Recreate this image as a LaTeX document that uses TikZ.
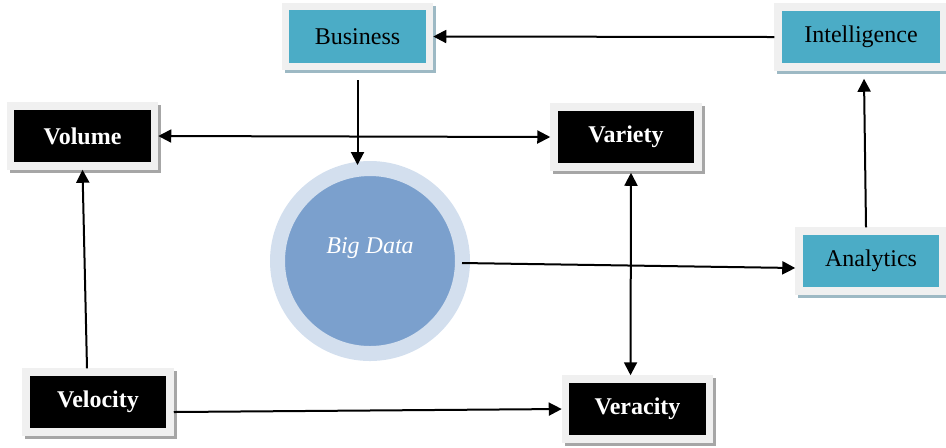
\documentclass[tikz,border=0pt]{standalone}
\usepackage{fontspec}
\setmainfont{Liberation Serif}
\usetikzlibrary{arrows.meta,shadows}

\definecolor{bdteal}{HTML}{4BACC6}
\definecolor{bdframe}{HTML}{F0F0F0}
\definecolor{bdblue}{HTML}{7BA0CD}
\definecolor{bdring}{HTML}{D3DFEE}
\definecolor{vshadow}{HTML}{A6A6A6}
\definecolor{tshadow}{HTML}{9DB9C4}

\begin{document}
\begin{tikzpicture}[x=0.5pt,y=-0.5pt,
  vbox/.style={draw=bdframe,fill=black,line width=3.75pt,
    minimum width=72pt,minimum height=30pt,text=white,
    font=\fontsize{12}{14}\selectfont\bfseries,
    drop shadow={shadow xshift=1.5pt,shadow yshift=-1.5pt,fill=vshadow,
      draw=vshadow,line width=3.75pt,opacity=1}},
  tbox/.style={draw=bdframe,fill=bdteal,line width=3.75pt,
    minimum width=72pt,minimum height=30pt,text=black,
    font=\fontsize{12}{14}\selectfont,
    drop shadow={shadow xshift=1.5pt,shadow yshift=-1.5pt,fill=tshadow,
      draw=tshadow,line width=3.75pt,opacity=1}},
  link/.style={line width=1pt,-{Triangle[length=6.5pt,width=6.5pt]}},
  twolink/.style={line width=1pt,{Triangle[length=6.5pt,width=6.5pt]}-{Triangle[length=6.5pt,width=6.5pt]}}]

\useasboundingbox (0,0) rectangle (946,447);

% the five V's
\node[vbox] (volume)   at (82.5,136) {Volume};
\node[vbox] (variety)  at (626,137)  {Variety};
\node[vbox] (velocity) at (98,402)   {Velocity};
\node[vbox] (veracity) at (637.5,409) {Veracity};

% business side
\node[tbox] (business)     at (357.5,36.5) {Business};
\node[tbox,minimum width=83pt] (intelligence) at (861,37) {Intelligence};
\node[tbox] (analytics)    at (871,261) {Analytics};

\node[circle,draw=bdring,fill=bdblue,line width=7.5pt,minimum size=92.5pt,
  label={[yshift=6.5pt,text=white,font=\fontsize{12}{14}\selectfont\itshape]center:Big Data}]
  (bigdata) at (370,261) {};

%%%%%%%%%%%%%%%%%%%%%%%%%%%%%%%%%%%%%%%%%%%%
\draw[link] (intelligence.west) -- (business.east);
\draw[link] ([yshift=-5pt]business.south) -- ([yshift=-2pt]business.south |- bigdata.north);
\draw[twolink] (volume.east) -- (variety.west);
\draw[link] ([xshift=-5.5pt]velocity.north) -- (volume.south);
\draw[link] ([yshift=-5pt]velocity.east) -- (veracity.west);
\draw[twolink] ([xshift=2.5pt,yshift=-1pt]variety.south) -- ([xshift=-3.5pt]veracity.north);
\draw[link] ([xshift=-4pt,yshift=-1pt]bigdata.east) -- ([yshift=-3.5pt]analytics.west);
\draw[link] ([xshift=-2.5pt]analytics.north) -- ([xshift=1.5pt,yshift=-4pt]intelligence.south);

\end{tikzpicture}
\end{document}
